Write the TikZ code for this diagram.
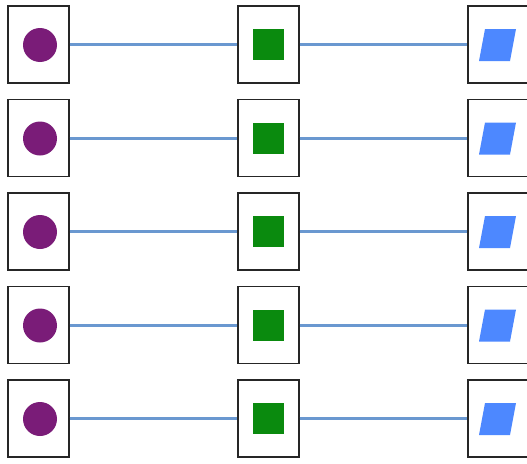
\documentclass[tikz,border=0pt]{standalone}
\usepackage{tikz}

\definecolor{dotpurple}{HTML}{7A1C78}
\definecolor{sqgreen}{HTML}{0A8A0E}
\definecolor{parblue}{HTML}{4D88FF}
\definecolor{linkblue}{HTML}{6A98D0}

\begin{document}
\begin{tikzpicture}[
    x=1pt, y=-1pt,
    cell/.style={draw=black!85, line width=1.2pt, fill=white,
        minimum width=61pt, minimum height=77pt, inner sep=0pt},
    link/.style={linkblue, line width=3pt}
]

% Parameters
\def\rowH{93.5}
\def\leftX{38.5}
\def\midX{268.5}
\def\rightX{498.5}

\useasboundingbox (0,0) rectangle (527,463);
\clip (0,0) rectangle (527,463);

% === Rows of cells ===
\foreach \i in {0,...,4} {
    \pgfmathsetmacro{\yc}{44.5 + \i*\rowH}

    % Boxes
    \node[cell] (c\i) at (\leftX,\yc) {};
    \node[cell] (s\i) at (\midX,\yc) {};
    \node[cell] (p\i) at (\rightX,\yc) {};

    % Connectors
    \draw[link] (c\i) -- (s\i);
    \draw[link] (s\i) -- (p\i);

    % Purple dot
    \fill[dotpurple] ([shift={(1.5,0.5)}]c\i.center) circle (17);

    % Green square
    \fill[sqgreen] ([shift={(-15.5,-15.5)}]s\i.center) rectangle ++(31,31);

    % Blue parallelogram
    \fill[parblue, shift={(p\i.center)}]
        (-13.5,-15.5) -- (17.5,-15.5) -- (11.5,16.5) -- (-19.5,16.5) -- cycle;
}

\end{tikzpicture}
\end{document}
